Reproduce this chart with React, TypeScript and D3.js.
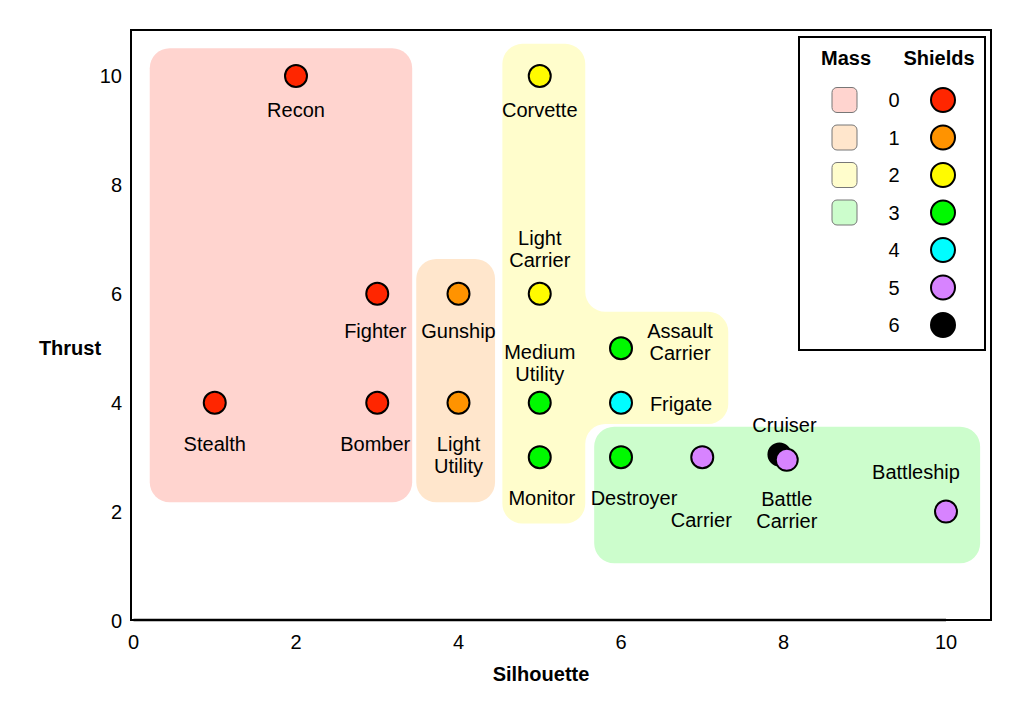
import React from "react";
import * as d3 from "d3";

const shipNames = ["Recon","Fighter","Stealth","Bomber","Gunship","Light Utility","Corvette","Light Carrier","Medium Utility","Monitor","Assault Carrier","Frigate","Destroyer","Carrier","Cruiser","Battle Carrier","Battleship"];
const silhouette = [2,3,1,3,4,4,5,5,5,5,6,6,6,7,7.95,8.04,10];
const thrust = [10,6,4,4,6,4,10,6,4,3,5,4,3,3,3.05,2.95,2];
const shields = [0,0,0,0,1,1,2,2,3,3,3,4,3,5,6,5,5];

const shieldLevels = [0,1,2,3,4,5,6];
const shieldColors = ["#FF2600","#FF9300","#FFFB00","#00F900","#00FDFF","#D783FF","#000000"];
const massLevels = [0,1,2,3];
const massColors = ["#FFD4CF","#FFE6CC","#FFFDCC","#CCFDCC"];

// Mass regions (outline vertices in data units)
const massRegions: [number, number][][] = [
  [[0.2,10.51],[3.43,10.51],[3.43,2.17],[0.2,2.17]],
  [[3.48,6.64],[4.45,6.64],[4.45,2.17],[3.48,2.17]],
  [[4.54,10.59],[5.56,10.59],[5.56,5.67],[7.32,5.67],[7.32,3.61],[5.56,3.61],[5.56,1.78],[4.54,1.78]],
  [[5.67,3.56],[10.42,3.56],[10.42,1.05],[5.67,1.05]],
];

const xTicks = [0,2,4,6,8,10];
const yTicks = [0,2,4,6,8,10];

// label placement: [dx, dy of first line center, anchor]
const labelPlace: Record<string, [number, number, string]> = {
  "Recon": [0, 34, "middle"],
  "Fighter": [-2, 37, "middle"],
  "Stealth": [0, 41, "middle"],
  "Bomber": [-2, 41, "middle"],
  "Gunship": [0, 37, "middle"],
  "Light Utility": [0, 41, "middle"],
  "Corvette": [0, 34, "middle"],
  "Light Carrier": [0, -56, "middle"],
  "Medium Utility": [0, -51, "middle"],
  "Monitor": [2, 41, "middle"],
  "Assault Carrier": [59, -17, "middle"],
  "Frigate": [60, 1, "middle"],
  "Destroyer": [13, 41, "middle"],
  "Carrier": [-1, 63, "middle"],
  "Cruiser": [5, -29, "middle"],
  "Battle Carrier": [0, 39, "middle"],
  "Battleship": [-30, -40, "middle"],
};
const multiLine: Record<string, string[]> = {
  "Light Utility": ["Light", "Utility"],
  "Light Carrier": ["Light", "Carrier"],
  "Medium Utility": ["Medium", "Utility"],
  "Assault Carrier": ["Assault", "Carrier"],
  "Battle Carrier": ["Battle", "Carrier"],
};

const FONT = "Helvetica, Arial, 'Liberation Sans', sans-serif";

function roundedPath(pts: [number, number][], r: number): string {
  const p = d3.path();
  const n = pts.length;
  const m0 = [(pts[0][0] + pts[1][0]) / 2, (pts[0][1] + pts[1][1]) / 2];
  p.moveTo(m0[0], m0[1]);
  for (let i = 1; i <= n; i++) {
    const a = pts[i % n];
    const b = pts[(i + 1) % n];
    p.arcTo(a[0], a[1], b[0], b[1], r);
  }
  p.closePath();
  return p.toString();
}

export default function App() {
  const W = 1024, H = 713;
  const x = d3.scaleLinear().domain([0, 10]).range([133.5, 946]);
  const y = d3.scaleLinear().domain([0, 10]).range([620.5, 76]);
  const shieldColor = d3.scaleOrdinal<number, string>().domain(shieldLevels).range(shieldColors);
  const massColor = d3.scaleOrdinal<number, string>().domain(massLevels).range(massColors);

  const frameL = 131, frameR = 991, frameT = 30, frameB = 620;

  const legX = 799, legY = 37, legW = 186, legH = 313;
  const rowY = (i: number) => 100 + i * 37.5;

  const order = d3.range(shipNames.length);

  return (
    <svg width={W} height={H} style={{ position: "absolute", left: 0, top: 0, background: "#fff" }} fontFamily={FONT}>
      <rect x={0} y={0} width={W} height={H} fill="#fff" />
      {massRegions.map((reg, i) => (
        <path key={i} d={roundedPath(reg.map(([a, b]) => [x(a), y(b)] as [number, number]), 20)} fill={massColor(i)} />
      ))}
      <rect x={frameL} y={frameT} width={frameR - frameL} height={frameB - frameT} fill="none" stroke="#000" strokeWidth={2} />
      <line x1={x(0)} x2={x(10)} y1={frameB} y2={frameB} stroke="#000" strokeWidth={2.5} />
      {yTicks.map((t) => (
        <text key={t} x={122} y={y(t)} dy="0.35em" textAnchor="end" fontSize={20}>{t}</text>
      ))}
      {xTicks.map((t) => (
        <text key={t} x={x(t)} y={642} dy="0.35em" textAnchor="middle" fontSize={20}>{t}</text>
      ))}
      <text x={70} y={348} dy="0.35em" textAnchor="middle" fontSize={20} fontWeight="bold">Thrust</text>
      <text x={541} y={674} dy="0.35em" textAnchor="middle" fontSize={20} fontWeight="bold">Silhouette</text>

      {order.map((i) => (
        <circle key={i} cx={x(silhouette[i])} cy={y(thrust[i])} r={11} fill={shieldColor(shields[i])} stroke="#000" strokeWidth={2} />
      ))}
      {order.map((i) => {
        const name = shipNames[i];
        const [dx, dy, anchor] = labelPlace[name];
        const lines = multiLine[name] || [name];
        const cx = x(silhouette[i]) + dx;
        const cy = y(thrust[i]) + dy;
        return (
          <text key={name} x={cx} y={cy} textAnchor={anchor as any} fontSize={20}>
            {lines.map((ln, k) => (
              <tspan key={k} x={cx} y={cy + k * 22} dy="0.35em">{ln}</tspan>
            ))}
          </text>
        );
      })}

      <rect x={legX} y={legY} width={legW} height={legH} fill="#fff" stroke="#000" strokeWidth={2} />
      <text x={846} y={58} dy="0.35em" textAnchor="middle" fontSize={20} fontWeight="bold">Mass</text>
      <text x={939} y={58} dy="0.35em" textAnchor="middle" fontSize={20} fontWeight="bold">Shields</text>
      {massLevels.map((m, i) => (
        <rect key={m} x={832} y={rowY(i) - 12.5} width={25} height={25} rx={5} fill={massColor(m)} stroke="#777" strokeWidth={1} />
      ))}
      {shieldLevels.map((s, i) => (
        <g key={s}>
          <text x={894} y={rowY(i)} dy="0.35em" textAnchor="middle" fontSize={20}>{s}</text>
          <circle cx={943} cy={rowY(i)} r={12} fill={shieldColor(s)} stroke="#000" strokeWidth={2} />
        </g>
      ))}
    </svg>
  );
}
